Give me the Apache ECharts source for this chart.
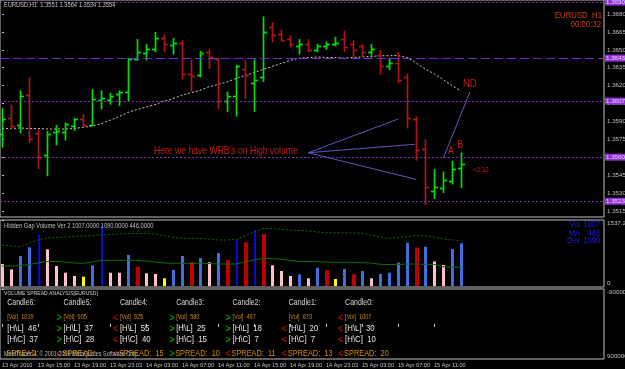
<!DOCTYPE html>
<html><head><meta charset="utf-8">
<script src="https://cdn.jsdelivr.net/npm/echarts@6/dist/echarts.min.js"></script>
<style>html,body{margin:0;padding:0;background:#000}#c{width:625px;height:369px}</style>
</head><body><div id="c"></div>
<script>
// ---------- DATA ----------
const symbol = 'EURUSD', timeframe = 'H1';
const timeTickIdx = [0,4,8,12,16,20,24,28,32,36,40,44,48];
const timeLabels = ['13 Apr 2010','13 Apr 15:00','13 Apr 19:00','13 Apr 23:03','14 Apr 03:00','14 Apr 07:00','14 Apr 11:00','14 Apr 15:00','14 Apr 19:00','14 Apr 23:03','15 Apr 03:00','15 Apr 07:00','15 Apr 11:00'];
const open  = [1.3579,1.3593,1.3587,1.3612,1.3580,1.3562,1.3581,1.3581,1.3586,1.3592,
               1.3587,1.3608,1.3608,1.3613,1.3615,1.3642,1.3647,1.3651,1.3660,1.3654,
               1.3656,1.3630,1.3629,1.3648,1.3642,1.3607,1.3611,1.3634,1.3622,1.3627,
               1.3669,1.3663,1.3659,1.3653,1.3655,1.3650,1.3653,1.3655,1.3659,1.3655,
               1.3653,1.3648,1.3646,1.3636,1.3639,1.3627,1.3592,1.3567,1.3532,1.3534,
               1.3540,1.3551];
const high  = [1.3601,1.3604,1.3616,1.3627,1.3583,1.3582,1.3587,1.3589,1.3593,1.3596,
               1.3617,1.3616,1.3614,1.3616,1.3643,1.3659,1.3655,1.3665,1.3663,1.3660,
               1.3658,1.3642,1.3649,1.3651,1.3643,1.3615,1.3637,1.3641,1.3642,1.3678,
               1.3673,1.3667,1.3662,1.3659,1.3659,1.3655,1.3657,1.3661,1.3666,1.3658,
               1.3655,1.3655,1.3650,1.3643,1.3648,1.3630,1.3594,1.3575,1.3550,1.3548,
               1.3557,1.3564];
const low   = [1.3568,1.3583,1.3580,1.3572,1.3550,1.3544,1.3570,1.3574,1.3582,1.3585,
               1.3586,1.3600,1.3604,1.3603,1.3607,1.3641,1.3641,1.3648,1.3648,1.3646,
               1.3625,1.3615,1.3627,1.3634,1.3600,1.3598,1.3594,1.3609,1.3598,1.3623,
               1.3656,1.3657,1.3652,1.3646,1.3648,1.3648,1.3650,1.3653,1.3648,1.3644,
               1.3644,1.3645,1.3629,1.3633,1.3622,1.3584,1.3557,1.3520,1.3525,1.3530,
               1.3537,1.3534];
const close = [1.3592,1.3586,1.3611,1.3575,1.3560,1.3579,1.3582,1.3588,1.3592,1.3587,
               1.3609,1.3610,1.3611,1.3615,1.3642,1.3648,1.3651,1.3660,1.3655,1.3656,
               1.3630,1.3628,1.3647,1.3644,1.3607,1.3611,1.3636,1.3629,1.3625,1.3665,
               1.3662,1.3658,1.3655,1.3655,1.3650,1.3653,1.3655,1.3656,1.3652,1.3650,
               1.3648,1.3651,1.3636,1.3639,1.3625,1.3593,1.3566,1.3535,1.3535,1.3541,
               1.3550,1.3554];
const priceMA = [1.3584,1.3584,1.35845,1.3584,1.3584,1.35836,1.35836,1.35836,1.3584,1.3585,
                 1.3586,1.3588,1.3591,1.3594,1.35975,1.3600,1.3602,1.3604,1.3607,1.3609,
                 1.3612,1.3614,1.3616,1.3619,1.3621,1.3623,1.3626,1.36285,1.3631,1.36335,
                 1.3636,1.36385,1.3641,1.3643,1.36435,1.3644,1.36435,1.36435,1.3643,1.36435,
                 1.3644,1.36444,1.3645,1.3645,1.36452,1.36435,1.3639,1.3634,1.3630,1.3625,
                 1.3620,1.36155];
const priceTicks = [1.3515,1.3530,1.3545,1.3560,1.3575,1.3590,1.3605,1.3620,1.3635,1.3650,1.3665,1.3680];
const levels = [1.3690,1.3643,1.3607,1.3560,1.3523];
const lastPrice = 1.3554;
const volume  = [519,394,707,912,1200,864,472,315,237,221,489,1436,315,315,731,456,301,284,183,378,
                 707,566,660,559,778,613,1107,1029,1318,1224,489,355,237,277,183,432,378,167,402,277,
                 355,183,284,315,550,1019,905,925,580,497,873,1007];
const volType = ['p','p','b','b','d','p','p','p','p','y','b','d','p','p','b','r','p','p','y','b',
                 'b','r','b','p','b','r','d','r','d','r','p','p','p','b','p','b','r','y','b','r',
                 'b','p','b','b','b','b','r','b','p','p','b','b'];
const volMA   = [472,472,484,508,543,578,578,566,543,536,566,606,606,606,606,602,590,566,543,536,
                 536,536,536,531,519,519,519,566,613,649,649,630,602,578,578,573,566,559,559,555,
                 550,543,512,508,508,519,519,512,508,456,442,446];
const volUpper= [966,942,926,1013,1083,1130,1142,1154,1166,1177,1189,1201,1213,1224,1236,1236,1241,1224,1189,1142,
                 1123,1123,1123,1107,1083,1083,1095,1177,1271,1354,1354,1335,1318,1307,1302,1271,1255,1255,1253,1248,
                 1241,1201,1154,1123,1142,1161,1189,1177,1154,1107,1083,1067];
const volDev = 1090;
const volTicks = [0, 1537.2];
const vsaTicks = [-9000000, 9000000];
const vsaNames  = ['Candle6:','Candle5:','Candle4:','Candle3:','Candle2:','Candle1:','Candle0:'];
const vsaVol    = [1019,905,925,580,497,873,1007];
const vsaHL     = [46,37,55,25,18,20,30];
const vsaHC     = [37,28,40,15,7,7,10];
const vsaSpread = [null,null,15,10,11,13,20];
const vsaArrVol = ['','>','<','>','>','','<'];
const vsaArrHL  = ['','>','<','>','>','<','<'];
const vsaArrHC  = ['','>','<','>','>','<','<'];
const vsaArrSp  = ['','<','<','>','<','<','<'];
// annotation segments [barIndex, price]
const wrbFrom = [34.03, 1.35637];
const wrbTo   = [[44.03,1.35920],[45.89,1.35708],[46.0,1.35414]];
const ndLine  = [[49.03,1.35590],[52.0,1.36149]];

// ---------- CHART ----------
const FONT = "'Liberation Sans',Arial,sans-serif";
const SX = 0.82;
const GRAY = '#C0C0C0';
const xMin = -2/9, xMax = 602/9;
const yMin = 1.3680 - 203/11930, yMax = 1.3680 + 14/11930;
const vMin = -21.2, vMax = 1553.5;

const UP = '#00E000', DN = '#B01414';
function ohlcItem(params, api){
  const i = api.value(0);
  const po = api.coord([i, api.value(1)]), ph = api.coord([i, api.value(2)]);
  const pl = api.coord([i, api.value(3)]), pc = api.coord([i, api.value(4)]);
  const col = api.value(4) >= api.value(1) ? UP : DN;
  const x = Math.round(ph[0]) + 0.5;
  const st = {stroke: col, lineWidth: 1.7};
  return {type:'group', children:[
    {type:'line', shape:{x1:x, y1:ph[1], x2:x, y2:pl[1]}, style:st},
    {type:'line', shape:{x1:x-3.5, y1:Math.round(po[1])+0.5, x2:x, y2:Math.round(po[1])+0.5}, style:st},
    {type:'line', shape:{x1:x, y1:Math.round(pc[1])+0.5, x2:x+3.5, y2:Math.round(pc[1])+0.5}, style:st}
  ]};
}
const VCOL = {p:'#FFC0CB', b:'#4070E0', d:'#0808D8', r:'#BC0000', y:'#FFFF00'};
const VW = {p:3, b:3, d:2, r:4, y:3};
function volItem(params, api){
  const i = api.value(0), t = volType[i];
  const p1 = api.coord([i, api.value(1)]), p0 = api.coord([i, 0]);
  const w = VW[t];
  return {type:'rect', shape:{x:Math.round(p1[0]-w/2+0.5), y:p1[1], width:w, height:p0[1]-p1[1]}, style:{fill:VCOL[t]}};
}

const tickLabelMap = {}; timeTickIdx.forEach((v,k)=>tickLabelMap[v]=timeLabels[k]);

function xAx(g){
  const o = {type:'value', gridIndex:g, min:xMin, max:xMax, axisLine:{show:false}, splitLine:{show:false},
             axisTick:{show:false}, axisLabel:{show:false}};
  if (g === 2){
    o.axisTick = {show:true, customValues:timeTickIdx, length:3, lineStyle:{color:GRAY}};
    o.axisLabel = {show:true, customValues:timeTickIdx, formatter:v=>tickLabelMap[Math.round(v)]||'',
                   color:GRAY, fontSize:5.6, fontFamily:FONT, align:'left', margin:3,
                   hideOverlap:false, showMinLabel:true, showMaxLabel:true};
  }
  return o;
}

const levelMarks = levels.map((v,k)=>[
  {coord:[xMin, v],
   lineStyle:{type: k===1 ? [9,4] : [2,2], color: k===1 ? '#7A28C8' : '#8030B8', width:1},
   label:{show:true, position:'end', distance:1, formatter:v.toFixed(4), color:'#EBD7FA',
          backgroundColor:'#9430D8', fontSize:6.2, fontFamily:FONT, padding:[1,1,0,1]}},
  {coord:[xMax, v]}
]);
levelMarks.push([
  {coord:[xMin, lastPrice], lineStyle:{opacity:0},
   label:{show:true, position:'end', distance:1, formatter:lastPrice.toFixed(4), color:'#000',
          backgroundColor:'#FFFFFF', fontSize:6.2, fontFamily:FONT, padding:[1,1,0,1]}},
  {coord:[xMax, lastPrice]}
]);
const annStyle = {color:'#5A5AC0', type:'solid', width:1};
const annMarks = wrbTo.map(e=>[{coord:wrbFrom, lineStyle:annStyle, label:{show:false}}, {coord:e}]);
annMarks.push([{coord:ndLine[0], lineStyle:annStyle, label:{show:false}}, {coord:ndLine[1]}]);

// texts
function txt(x, y, text, fill, size, align){
  return {type:'text', x:x, y:y, scaleX:SX, silent:true, z:100,
          style:{text:text, fill:fill, font:size+'px '+FONT, align:align||'left', verticalAlign:'middle'}};
}
const RED = '#CC1A1A';
const g = [];
g.push(txt(4, 5.5, `${symbol},${timeframe}  ${open[51].toFixed(4)} ${high[51].toFixed(4)} ${low[51].toFixed(4)} ${close[51].toFixed(4)}`, GRAY, 7));
g.push(txt(602, 15, `${symbol}  ${timeframe}`, '#C8401E', 9.5, 'right'));
g.push(txt(601, 24, '00:00:32', '#C8401E', 9.5, 'right'));
g.push(txt(154, 151.5, "Here we have WRB's on High volume", RED, 10.5));
g.push(txt(463, 84, 'ND', RED, 11.5));
g.push(txt(448, 151.5, 'A', RED, 10.5));
g.push(txt(457.5, 145, 'B', RED, 10.5));
g.push(txt(473, 169.5, '<0:32', RED, 7.5));
g.push(txt(4, 226, `Hidden Gap Volume Ver 2 ${volume[51].toFixed(4)} ${volDev.toFixed(4)} ${volMA[51].toFixed(4)}`, GRAY, 7));
const BLUE = '#1E1EE8';
[['Vol', volume[51], 225], ['MA', volMA[51], 233.3], ['Dev', volDev, 241]].forEach(r=>{
  g.push(txt(580, r[2], r[0], BLUE, 9, 'right'));
  g.push(txt(600, r[2], String(r[1]), BLUE, 9, 'right'));
});
g.push(txt(4, 293.3, 'VOLUME SPREAD ANALYSIS[EURUSD]', '#D0D0D0', 6.2));
const GRN = '#00C800', RD = '#E01010', ORG = '#C88A10', SPO = '#D98C00', WH = '#E6E6E6';
function arrow(x, y, a){ if (a) g.push(txt(x, y, a, a === '>' ? GRN : RD, 11)); }
vsaNames.forEach((nm, k)=>{
  const cx = 7.3 + 56.3*k;
  g.push(txt(cx, 302.5, nm, '#D8D8D8', 8.5));
  arrow(cx-7, 317.5, vsaArrVol[k]);
  g.push(txt(cx, 317, '[Vol]  ' + vsaVol[k], ORG, 6.8));
  arrow(cx-7, 328.5, vsaArrHL[k]);
  g.push(txt(cx, 328.3, '[H\u005CL]  ' + vsaHL[k], WH, 9.5));
  arrow(cx-7, 339.5, vsaArrHC[k]);
  g.push(txt(cx, 339.3, '[H\u005CC]  ' + vsaHC[k], WH, 9.5));
  arrow(cx-7, 354.3, vsaArrSp[k]);
  g.push(txt(cx-1, 354, 'SPREAD:' + (vsaSpread[k] === null ? '' : '  ' + vsaSpread[k]), SPO, 9));
});
const cp = txt(4, 354, 'MetaTrader 4, \u00A9 2001-2009 MetaQuotes Software Corp.', '#B8B8B8', 6.6);
cp.z = 110; g.push(cp);

const gridBase = {left:0, right:21, show:true, borderColor:GRAY, borderWidth:1, backgroundColor:'transparent',
                  containLabel:false, outerBoundsMode:'none'};
const option = {
  backgroundColor:'#000000',
  animation:false,
  grid:[
    Object.assign({top:0, height:217}, gridBase),
    Object.assign({top:220, height:67}, gridBase),
    Object.assign({top:289, height:70}, gridBase)
  ],
  xAxis:[xAx(0), xAx(1), xAx(2)],
  yAxis:[
    {type:'value', gridIndex:0, position:'right', min:yMin, max:yMax, scale:true,
     axisLine:{show:false}, splitLine:{show:false},
     axisTick:{show:true, customValues:priceTicks, length:2, lineStyle:{color:GRAY}},
     axisLabel:{customValues:priceTicks, formatter:v=>v.toFixed(4), color:GRAY, fontSize:6.2, fontFamily:FONT, margin:3}},
    {type:'value', gridIndex:1, position:'right', min:vMin, max:vMax,
     axisLine:{show:false}, splitLine:{show:false},
     axisTick:{show:true, customValues:volTicks, length:2, lineStyle:{color:GRAY}},
     axisLabel:{customValues:volTicks, formatter:v=> v===0 ? '{b|0}' : '{a|'+v.toFixed(1)+'}',
                color:GRAY, fontSize:6.2, fontFamily:FONT, margin:3,
                rich:{a:{padding:[6,0,0,0], color:GRAY, fontSize:6.2, fontFamily:FONT},
                      b:{padding:[0,0,6,0], color:GRAY, fontSize:6.2, fontFamily:FONT}}}},
    {type:'value', gridIndex:2, position:'right', min:vsaTicks[0], max:vsaTicks[1], inverse:true,
     axisLine:{show:false}, splitLine:{show:false},
     axisTick:{show:true, customValues:[vsaTicks[0]], length:2, lineStyle:{color:GRAY}},
     axisLabel:{customValues:vsaTicks, formatter:v=> v<0 ? '{a|'+v+'}' : '{b|'+v+'}',
                color:GRAY, fontSize:6.2, fontFamily:FONT, margin:3,
                rich:{a:{padding:[6,0,0,0], color:GRAY, fontSize:6.2, fontFamily:FONT},
                      b:{padding:[0,0,6,0], color:GRAY, fontSize:6.2, fontFamily:FONT}}}}
  ],
  series:[
    {type:'line', name:'MA', xAxisIndex:0, yAxisIndex:0, z:1, showSymbol:false, silent:true,
     data: priceMA.map((v,i)=>[i,v]),
     lineStyle:{color:'#C8C8C8', type:[2,2], width:1}},
    {type:'line', name:'levels', xAxisIndex:0, yAxisIndex:0, z:1, showSymbol:false, silent:true, data:[],
     markLine:{silent:true, symbol:['none','none'], animation:false, data: levelMarks}},
    {type:'custom', name:'OHLC', xAxisIndex:0, yAxisIndex:0, z:3, silent:true,
     data: open.map((o,i)=>[i, o, high[i], low[i], close[i]]),
     encode:{x:0, y:[1,2,3,4]}, renderItem: ohlcItem},
    {type:'line', name:'ann', xAxisIndex:0, yAxisIndex:0, z:4, showSymbol:false, silent:true, data:[],
     markLine:{silent:true, symbol:['none','none'], animation:false, data: annMarks}},
    {type:'custom', name:'Volume', xAxisIndex:1, yAxisIndex:1, z:2, silent:true,
     data: volume.map((v,i)=>[i, v]), encode:{x:0, y:1}, renderItem: volItem},
    {type:'line', name:'VolMA', xAxisIndex:1, yAxisIndex:1, z:3, showSymbol:false, silent:true,
     data: volMA.map((v,i)=>[i,v]), lineStyle:{color:'#0D6A0D', width:1}},
    {type:'line', name:'VolUpper', xAxisIndex:1, yAxisIndex:1, z:3, showSymbol:false, silent:true,
     data: volUpper.map((v,i)=>[i,v]), lineStyle:{color:'#0D6A0D', width:1, type:[2,2]}}
  ],
  graphic: g
};
const chart = echarts.init(document.getElementById('c'), null, {renderer:'canvas'});
chart.setOption(option);
</script></body></html>
